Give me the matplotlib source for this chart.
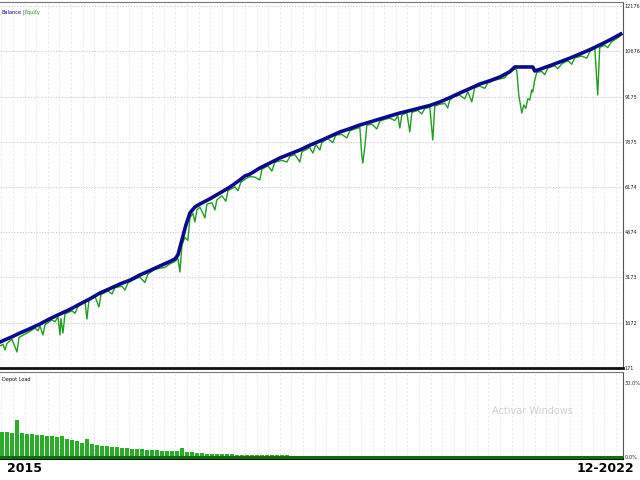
import numpy as np
import matplotlib.pyplot as plt

# balance curve (trade index, account value)
bal_x = [0, 10, 20, 30, 40, 50, 60, 70, 80, 90, 100, 110, 120, 130, 140, 150, 160, 170, 175, 178,
         182, 186, 190, 195, 200, 210, 220, 230, 240, 245, 250, 260, 270, 280, 290, 300, 310, 320,
         330, 340, 350, 360, 370, 380, 390, 400, 410, 420, 430, 440, 450, 460, 470, 480, 490, 500,
         510, 515, 525, 533, 535, 540, 550, 560, 570, 580, 590, 600, 610, 621]
bal_v = [1027, 1170, 1326, 1470, 1625, 1800, 1957, 2110, 2289, 2460, 2654, 2800, 2953, 3080, 3252,
         3400, 3551, 3700, 3783, 3916, 4414, 4912, 5310, 5510, 5609, 5780, 5974, 6170, 6406, 6539,
         6600, 6804, 6970, 7136, 7270, 7402, 7560, 7701, 7850, 8000, 8110, 8232, 8330, 8431, 8530,
         8630, 8710, 8796, 8880, 8996, 9140, 9294, 9440, 9593, 9700, 9826, 10000, 10158, 10158,
         10158, 10025, 10080, 10200, 10324, 10450, 10589, 10730, 10888, 11054, 11253]

# equity curve
eq_x = [0, 3, 5, 7, 12, 17, 19, 25, 30, 35, 38, 40, 43, 45, 52, 55, 58, 60, 61, 63, 65, 72, 75, 78,
        85, 87, 89, 95, 99, 101, 108, 112, 115, 122, 125, 128, 135, 140, 145, 148, 155, 160, 165,
        170, 175, 178, 180, 182, 185, 188, 190, 193, 195, 197, 200, 203, 205, 207, 212, 215, 217,
        222, 226, 228, 235, 238, 241, 246, 250, 255, 260, 262, 268, 272, 275, 282, 287, 290, 295,
        300, 302, 310, 313, 316, 320, 322, 328, 333, 336, 342, 347, 350, 355, 360, 362, 363, 365,
        367, 372, 377, 380, 385, 390, 395, 398, 400, 402, 407, 410, 412, 418, 422, 425, 430, 433,
        435, 440, 445, 448, 450, 455, 460, 465, 468, 472, 475, 480, 485, 488, 495, 500, 505, 508,
        512, 515, 517, 519, 522, 524, 526, 528, 530, 532, 533, 535, 537, 542, 545, 548, 555, 558,
        562, 568, 572, 575, 582, 587, 590, 595, 598, 600, 605, 608, 612, 617, 621]
eq_v = [900, 950, 762, 980, 1120, 696, 1180, 1290, 1380, 1490, 1400, 1560, 1260, 1600, 1760, 1700,
        1860, 1260, 1800, 1326, 1960, 2060, 1980, 2200, 2380, 1791, 2420, 2540, 2190, 2600, 2720,
        2620, 2830, 2880, 2750, 2990, 3120, 3180, 3000, 3280, 3440, 3480, 3500, 3620, 3700, 3800,
        3352, 4250, 4500, 4400, 5150, 5300, 5012, 5420, 5500, 5300, 5145, 5600, 5650, 5410, 5750,
        5880, 5700, 6050, 6180, 6050, 6330, 6450, 6520, 6500, 6406, 6760, 6880, 6700, 6990, 7060,
        7000, 7190, 7250, 7004, 7340, 7480, 7300, 7580, 7402, 7650, 7780, 7650, 7900, 7920, 7800,
        8040, 8100, 8150, 7200, 6970, 7500, 8220, 8260, 8100, 8360, 8420, 8460, 8380, 8540, 8132,
        8560, 8640, 8000, 8650, 8720, 8600, 8780, 8820, 7734, 8860, 8920, 8950, 8800, 9070, 9180,
        9220, 9100, 9340, 9000, 9480, 9520, 9450, 9630, 9720, 9760, 9800, 9930, 10080, 10090,
        10054, 9228, 8630, 8900, 8780, 9100, 9063, 9400, 9327, 9727, 9980, 10010, 9900, 10120,
        10200, 10100, 10260, 10370, 10250, 10460, 10520, 10450, 10660, 10800, 9228, 10810, 10880,
        10800, 11000, 11100, 11200]

# depot load, one bar every 5 trades (%)
load = [10.8, 10.5, 10.4, 15.4, 10.2, 10.0, 9.8, 9.5, 9.3, 9.1, 8.9, 8.7, 9.0, 8.0, 7.5, 7.0,
        6.5, 8.0, 5.8, 5.5, 5.2, 5.0, 4.8, 4.6, 4.4, 4.3, 4.1, 4.0, 3.9, 3.7, 3.6, 3.4, 3.3, 3.2,
        3.1, 3.0, 4.5, 2.9, 2.7, 2.5, 2.2, 2.1, 2.0, 1.9, 1.9, 1.8, 1.8, 1.7, 1.7, 1.6, 1.6, 1.6,
        1.5, 1.5, 1.5, 1.4, 1.4, 1.4, 1.3, 1.3, 1.3, 1.3, 1.2, 1.2, 1.2, 1.2, 1.1, 1.1, 1.1, 1.1,
        1.1, 1.0, 1.0, 1.0, 1.0, 1.0, 0.9, 0.9, 0.9, 0.9, 0.9, 0.9, 0.85, 0.85, 0.85, 0.8, 0.8,
        0.8, 0.8, 0.8, 0.8, 0.8, 0.75, 0.75, 0.75, 0.75, 0.75, 0.75, 0.75, 0.7, 0.7, 0.7, 0.7,
        0.7, 0.7, 0.7, 0.7, 0.7, 0.7, 0.65, 0.65, 0.65, 0.65, 0.65, 0.65, 0.65, 0.65, 0.65, 0.6,
        0.6, 0.6, 0.6, 0.6, 0.6, 0.6]
load_x = np.arange(len(load)) * 5

yticks = [171, 1672, 3173, 4674, 6174, 7675, 9175, 10676, 12176]

fig = plt.figure(figsize=(6.4, 4.8), dpi=100)
ax = fig.add_axes([0, 0.2338, 0.973, 0.762])
ax2 = fig.add_axes([0, 0.0438, 0.973, 0.181])

gx = np.arange(1.5, 623, 11.6)

# main panel
for v in yticks[1:]:
    ax.axhline(v, color='#c8c8c8', lw=0.8, ls=(0, (1, 1.5)), zorder=0)
for x in gx:
    ax.axvline(x, color='#e0e0e0', lw=0.6, ls=(0, (2, 3)), zorder=0)
ax.plot(eq_x, eq_v, color='#1f9e1f', lw=1.0, zorder=2)
ax.plot(bal_x, bal_v, color='#0a0a8c', lw=2.6, zorder=3)
ax.set_xlim(0, 623)
ax.set_ylim(171, 12315)
ax.set_xticks([])
ax.yaxis.tick_right()
ax.set_yticks(yticks)
ax.set_yticklabels([str(v) for v in yticks], fontsize=3.6, color='#222222')
ax.tick_params(axis='y', length=0, pad=1.5)
ax.spines['left'].set_visible(False)
ax.spines['top'].set_color('#777777')
ax.spines['right'].set_color('#555555')
ax.spines['bottom'].set_color('#111111')
ax.spines['bottom'].set_linewidth(2)
ax.text(2, 12050, 'Balance', fontsize=3.6, color='#0a0a8c', va='top')
ax.text(22, 12050, '|', fontsize=3.6, color='#333333', va='top')
ax.text(25, 12050, 'Equity', fontsize=3.6, color='#1f9e1f', va='top')

# depot load panel
for x in gx:
    ax2.axvline(x, color='#e0e0e0', lw=0.6, ls=(0, (2, 3)), zorder=0)
ax2.bar(load_x, load, width=4, align='edge', color='#2aae2a', edgecolor='none', zorder=2)
ax2.axhline(0.6, color='#0c6e0c', lw=2.2, zorder=3)
ax2.set_xlim(0, 623)
ax2.set_ylim(0, 34.3)
ax2.set_xticks([])
ax2.yaxis.tick_right()
ax2.set_yticks([0.8, 30])
ax2.set_yticklabels(['0.0%', '30.0%'], fontsize=3.6, color='#222222')
ax2.tick_params(axis='y', length=0, pad=1.5)
ax2.spines['left'].set_visible(False)
ax2.spines['top'].set_color('#777777')
ax2.spines['right'].set_color('#555555')
ax2.spines['bottom'].set_color('#111111')
ax2.spines['bottom'].set_linewidth(1.5)
ax2.text(2, 32.5, 'Depot Load', fontsize=3.6, color='#111111', va='top')
ax2.text(533, 19, 'Activar Windows', fontsize=7, color='#d0d0d0',
         ha='center', va='center')

fig.text(24 / 640, 1 - 468 / 480, '2015', fontsize=9, fontweight='bold', ha='center', va='center')
fig.text(605 / 640, 1 - 468 / 480, '12-2022', fontsize=9, fontweight='bold', ha='center', va='center')

fig.savefig('out.png', dpi=100)
